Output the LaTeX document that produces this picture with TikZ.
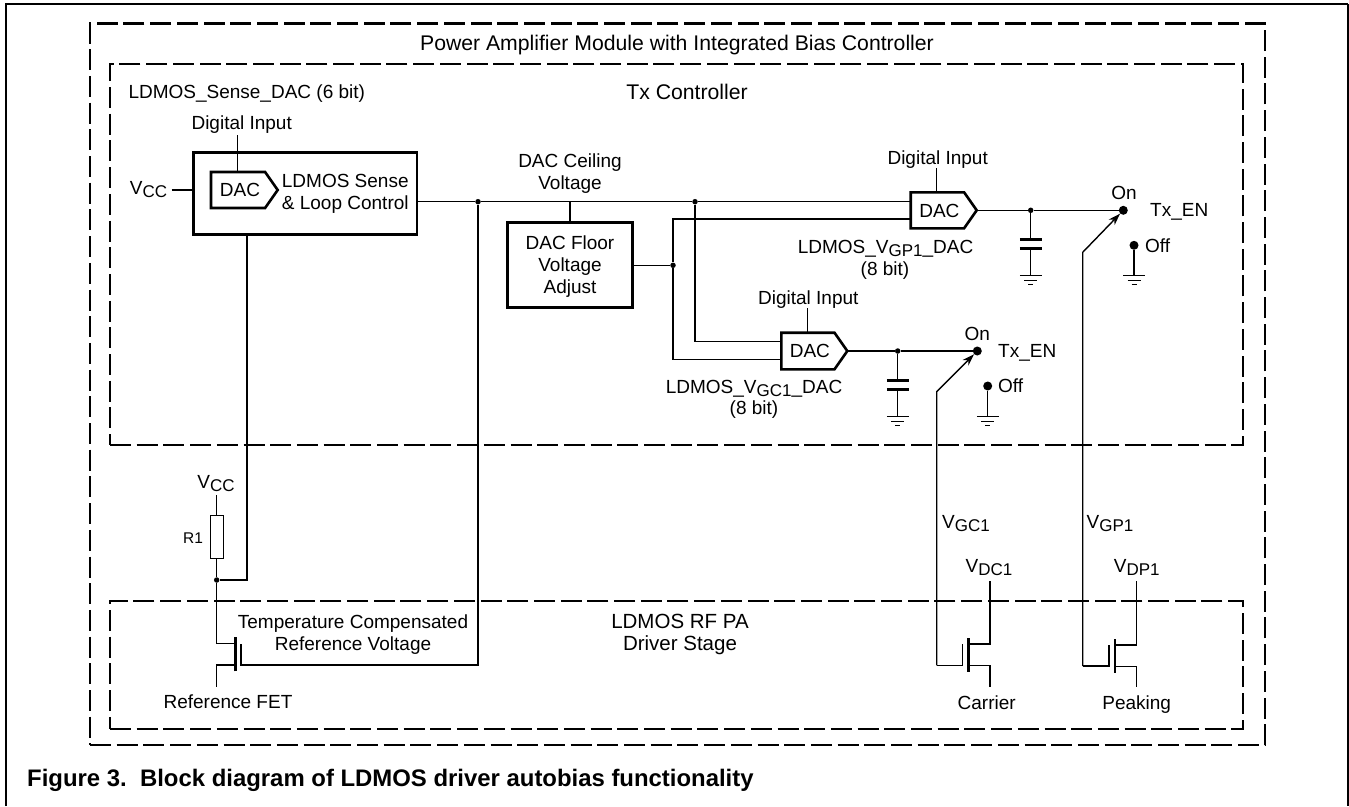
\documentclass[tikz,border=0pt]{standalone}
\usepackage{fontspec}
\setmainfont{Liberation Sans}
\usetikzlibrary{shapes.symbols,arrows.meta}

% Label with a lowered index, as in V_CC
\newcommand{\vsub}[2]{#1\raisebox{-0.3ex}{\fontsize{17pt}{18pt}\selectfont #2}}

\tikzset{
    lbl/.style={inner sep=0pt,text height=13.5pt,text depth=0pt,font=\fontsize{19pt}{21pt}\selectfont},
    bigtitle/.style={lbl,font=\fontsize{21.2pt}{23pt}\selectfont},
    wire/.style={line width=1.4pt},
    framebox/.style={draw,line width=2.6pt,dash pattern=on 21pt off 5.7pt,inner sep=0pt,outer sep=0pt},
    solidbox/.style={draw,line width=2.6pt,inner sep=0pt,outer sep=0pt},
    dacbox/.style={draw,line width=2.6pt,inner sep=0pt,outer sep=0pt,shape=signal,signal to=east,signal pointer angle=110,
        lbl},
    junction/.style={circle,fill=black,inner sep=0pt,minimum size=5.5pt},
    contact/.style={circle,fill=black,inner sep=0pt,minimum size=9pt},
    plate/.style={line width=3pt},
    gatebar/.style={line width=2.8pt}
}

\begin{document}
\begin{tikzpicture}[x=1pt,y=-1pt]
    \useasboundingbox (0,0) rectangle (1349,806);

    % Page rule, open at the bottom
    \draw[line width=2.2pt] (6,806) -- (6,4) -- (1348,4);
    \draw[line width=1.2pt] (1348,4) -- (1348,806);

    % Dashed frames
    \node[framebox,minimum width=1175pt,minimum height=721.5pt] (pamodule) at (677.5,384.25) {};
    \node[bigtitle] (pamoduletitle) at (677,44) {Power Amplifier Module with Integrated Bias Controller};
    \node[framebox,minimum width=1133pt,minimum height=381pt] (txbox) at (676.5,254.5) {};
    \node[bigtitle] (txtitle) at (687,93) {Tx Controller};
    \node[framebox,minimum width=1133pt,minimum height=128pt] (rfbox) at (676.5,665) {};
    \node[bigtitle,font=\fontsize{20.5pt}{23pt}\selectfont] (rftitleone) at (680,622) {LDMOS RF PA};
    \node[bigtitle,font=\fontsize{20.5pt}{23pt}\selectfont] (rftitletwo) at (680,644) {Driver Stage};

    % Sense block with its DAC
    \node[lbl,anchor=west] (sensename) at (128.3,92) {LDMOS\_Sense\_DAC (6 bit)};
    \node[solidbox,minimum width=223.5pt,minimum height=81.5pt] (senseblock) at (305.25,193.5) {};
    \node[dacbox,minimum width=66.7pt,minimum height=36pt,anchor=west] (sensedac) at (211,190) {\hspace*{4pt}DAC};
    \node[lbl,anchor=west] (sensetextone) at (281.7,181) {LDMOS Sense};
    \node[lbl,anchor=west] (sensetexttwo) at (281.7,203) {\&\ Loop Control};
    \node[lbl] (sensedigital) at (241.7,123) {Digital Input};
    \coordinate (sensestem) at (237.7,135);
    \draw[wire] (sensestem) -- (sensestem |- sensedac.north);
    \node[lbl] (sensevcc) at (148.5,188) {\vsub{V}{CC}};
    \coordinate (sensevccend) at (171.7,190);
    \draw[wire] (sensevccend) -- (sensevccend -| senseblock.west);

    % Ceiling voltage bus
    \node[junction] (busleft) at (478,201.7) {};
    \node[junction] (busright) at (695,201.7) {};
    \node[lbl] (ceilingone) at (570,161) {DAC Ceiling};
    \node[lbl] (ceilingtwo) at (570,183) {Voltage};

    % Floor voltage block
    \node[solidbox,minimum width=125pt,minimum height=85pt] (floorblock) at (570,265) {};
    \node[lbl] (floorone) at (570,243) {DAC Floor};
    \node[lbl] (floortwo) at (570,265) {Voltage};
    \node[lbl] (floorthree) at (570,287) {Adjust};
    \node[junction] (floorjoint) at (673,265.3) {};
    \draw[wire] (floorblock.east |- floorjoint) -- (floorjoint);
    \draw[wire] (floorblock.north) -- (floorblock.north |- busleft);

    % DAC for the peaking gate
    \node[dacbox,minimum width=66pt,minimum height=36pt,anchor=west] (dacgp) at (910.7,210.3) {\hspace*{4pt}DAC};
    \node[lbl] (gpdigital) at (937.7,157.3) {Digital Input};
    \coordinate (gpstem) at (936.7,168);
    \draw[wire] (gpstem) -- (gpstem |- dacgp.north);
    \node[lbl] (gpnameone) at (885.5,246.7) {LDMOS\_\vsub{V}{GP1}\_DAC};
    \node[lbl] (gpnametwo) at (885,268.7) {(8 bit)};

    % DAC for the carrier gate
    \node[dacbox,minimum width=66pt,minimum height=36.6pt,anchor=west] (dacgc) at (781.3,351) {\hspace*{4pt}DAC};
    \node[lbl] (gcdigital) at (808.3,297.7) {Digital Input};
    \coordinate (gcstem) at (807.7,308);
    \draw[wire] (gcstem) -- (gcstem |- dacgc.north);
    \node[lbl] (gcnameone) at (754,386.7) {LDMOS\_\vsub{V}{GC1}\_DAC};
    \node[lbl] (gcnametwo) at (754,408) {(8 bit)};

    % Wiring between the blocks
    \draw[wire] (senseblock.east |- busleft) -- (busleft) -- (busright) -- (dacgp.west |- busright);
    \coordinate (floortap) at (673,219);
    \draw[wire] (dacgp.west |- floortap) -- (floortap) -- (floorjoint);
    \coordinate (gcceiling) at (695,341.7);
    \coordinate (gcfloor) at (673,359.3);
    \draw[wire] (busright) -- (gcceiling) -- (dacgc.west |- gcceiling);
    \draw[wire] (floorjoint) -- (gcfloor) -- (dacgc.west |- gcfloor);

    % Output and switch of the peaking DAC
    \node[contact] (gpon) at (1123.3,210.3) {};
    \node[junction] (gpout) at (1030.7,210.3) {};
    \draw[wire] (dacgp.east) -- (gpout) -- (gpon);
    \node[lbl] (gponlabel) at (1124,192.7) {On};
    \node[lbl,anchor=west] (gpenable) at (1150,210) {Tx\_EN};
    \node[contact] (gpoff) at (1134,245.3) {};
    \node[lbl,anchor=west] (gpofflabel) at (1145,245.3) {Off};

    % Capacitor and grounds at the peaking DAC
    \coordinate (gpcaptop) at (1030.7,239.3);
    \coordinate (gpcapbot) at (1030.7,248.6);
    \coordinate (gpcapgnd) at (1030.7,275.7);
    \coordinate (gpoffgnd) at (1134,275.7);
    \draw[wire] (gpout) -- (gpcaptop);
    \draw[plate] ([xshift=-10.8pt]gpcaptop) -- ([xshift=10.8pt]gpcaptop);
    \draw[plate] ([xshift=-10.8pt]gpcapbot) -- ([xshift=10.8pt]gpcapbot);
    \draw[wire] (gpcapbot) -- (gpcapgnd);
    \draw[wire] (gpoff) -- (gpoffgnd);
    \draw[wire] ([xshift=-10.8pt]gpcapgnd) -- ([xshift=10.8pt]gpcapgnd);
    \draw[wire] ([xshift=-6.5pt,yshift=-4.5pt]gpcapgnd) -- ([xshift=6.5pt,yshift=-4.5pt]gpcapgnd);
    \draw[wire] ([xshift=-2.5pt,yshift=-9pt]gpcapgnd) -- ([xshift=2.5pt,yshift=-9pt]gpcapgnd);
    \draw[wire] ([xshift=-10.8pt]gpoffgnd) -- ([xshift=10.8pt]gpoffgnd);
    \draw[wire] ([xshift=-6.5pt,yshift=-4.5pt]gpoffgnd) -- ([xshift=6.5pt,yshift=-4.5pt]gpoffgnd);
    \draw[wire] ([xshift=-2.5pt,yshift=-9pt]gpoffgnd) -- ([xshift=2.5pt,yshift=-9pt]gpoffgnd);

    % Output and switch of the carrier DAC
    \node[contact] (gcon) at (977.3,351) {};
    \node[junction] (gcout) at (897.7,351) {};
    \draw[wire] (dacgc.east) -- (gcout) -- (gcon);
    \node[lbl] (gconlabel) at (977.3,333.3) {On};
    \node[lbl,anchor=west] (gcenable) at (998,351) {Tx\_EN};
    \node[contact] (gcoff) at (987.7,386) {};
    \node[lbl,anchor=west] (gcofflabel) at (998,386) {Off};

    % Capacitor and grounds at the carrier DAC
    \coordinate (gccaptop) at (897.7,380);
    \coordinate (gccapbot) at (897.7,389.3);
    \coordinate (gccapgnd) at (897.7,416.7);
    \coordinate (gcoffgnd) at (987.7,416.7);
    \draw[wire] (gcout) -- (gccaptop);
    \draw[plate] ([xshift=-10.8pt]gccaptop) -- ([xshift=10.8pt]gccaptop);
    \draw[plate] ([xshift=-10.8pt]gccapbot) -- ([xshift=10.8pt]gccapbot);
    \draw[wire] (gccapbot) -- (gccapgnd);
    \draw[wire] (gcoff) -- (gcoffgnd);
    \draw[wire] ([xshift=-10.8pt]gccapgnd) -- ([xshift=10.8pt]gccapgnd);
    \draw[wire] ([xshift=-6.5pt,yshift=-4.5pt]gccapgnd) -- ([xshift=6.5pt,yshift=-4.5pt]gccapgnd);
    \draw[wire] ([xshift=-2.5pt,yshift=-9pt]gccapgnd) -- ([xshift=2.5pt,yshift=-9pt]gccapgnd);
    \draw[wire] ([xshift=-10.8pt]gcoffgnd) -- ([xshift=10.8pt]gcoffgnd);
    \draw[wire] ([xshift=-6.5pt,yshift=-4.5pt]gcoffgnd) -- ([xshift=6.5pt,yshift=-4.5pt]gcoffgnd);
    \draw[wire] ([xshift=-2.5pt,yshift=-9pt]gcoffgnd) -- ([xshift=2.5pt,yshift=-9pt]gcoffgnd);

    % Reference FET with R1
    \node[lbl] (refvcc) at (216,482) {\vsub{V}{CC}};
    \node[draw,line width=1.2pt,inner sep=0pt,outer sep=0pt,minimum width=13pt,minimum height=43pt] (rone) at (216.7,537.3) {};
    \node[lbl,font=\fontsize{15.5pt}{17pt}\selectfont] (ronelabel) at (193,537) {R1};
    \node[junction] (refjoint) at (216.7,580) {};
    \coordinate (rvccend) at (216.7,495);
    \coordinate (sensedrop) at (247,580);
    \coordinate (refdrain) at (216.7,643.7);
    \coordinate (refbar) at (235.7,654.3);
    \coordinate (refsource) at (216.7,665);
    \coordinate (refsourceend) at (216.7,687);
    \coordinate (refgate) at (241,665);
    \coordinate (refgateturn) at (478,665);
    \draw[wire] (rvccend) -- (rone);
    \draw[wire] (rone) -- (refjoint) -- (refdrain) -- (refdrain -| refbar);
    \draw[wire] (refsource -| refbar) -- (refsource) -- (refsourceend);
    \draw[wire] (senseblock.south -| sensedrop) -- (sensedrop) -- (refjoint);
    \draw[gatebar] ([yshift=-17pt]refbar) -- ([yshift=17pt]refbar);
    \draw[wire] ([yshift=21pt]refgate) -- (refgate) -- (refgateturn) -- (busleft);
    \node[lbl] (reftempone) at (353,621.7) {Temperature Compensated};
    \node[lbl] (reftemptwo) at (353,643.5) {Reference Voltage};
    \node[lbl] (refname) at (228,701.7) {Reference FET};

    % Carrier FET
    \coordinate (gcdrop) at (936.7,391.7);
    \coordinate (gcgate) at (936.7,665.3);
    \coordinate (gcgatebar) at (962.7,665.3);
    \coordinate (gcbar) at (968.3,654.7);
    \coordinate (gcdrainturn) at (990,644);
    \coordinate (gcdrainend) at (990,580.7);
    \coordinate (gcsourceturn) at (990,665.3);
    \coordinate (gcsourceend) at (990,686.7);
    \draw[wire,-{Stealth[length=12pt,width=8pt]}] (gcgate) -- (gcdrop) -- (gcon);
    \draw[wire] (gcgate) -- (gcgatebar) -- ([yshift=21.3pt]gcgatebar);
    \draw[gatebar] ([yshift=-17pt]gcbar) -- ([yshift=17pt]gcbar);
    \draw[wire] (gcbar |- gcdrainturn) -- (gcdrainturn) -- (gcdrainend);
    \draw[wire] (gcbar |- gcsourceturn) -- (gcsourceturn) -- (gcsourceend);
    \node[lbl] (gcvolt) at (966,522) {\vsub{V}{GC1}};
    \node[lbl] (gcdrain) at (989,566) {\vsub{V}{DC1}};
    \node[lbl] (gcfetname) at (986.7,703) {Carrier};

    % Peaking FET
    \coordinate (gpdrop) at (1082.7,252.3);
    \coordinate (gpgate) at (1082.7,666);
    \coordinate (gpgatebar) at (1109,666);
    \coordinate (gpbar) at (1115,655.5);
    \coordinate (gpdrainturn) at (1136.7,645);
    \coordinate (gpdrainend) at (1136.7,580.7);
    \coordinate (gpsourceturn) at (1136.7,666.7);
    \coordinate (gpsourceend) at (1136.7,687);
    \draw[wire,-{Stealth[length=12pt,width=8pt]}] (gpgate) -- (gpdrop) -- (gpon);
    \draw[wire] (gpgate) -- (gpgatebar) -- ([yshift=21pt]gpgatebar);
    \draw[gatebar] ([yshift=-17pt]gpbar) -- ([yshift=17pt]gpbar);
    \draw[wire] (gpbar |- gpdrainturn) -- (gpdrainturn) -- (gpdrainend);
    \draw[wire] (gpbar |- gpsourceturn) -- (gpsourceturn) -- (gpsourceend);
    \node[lbl] (gpvolt) at (1110,522) {\vsub{V}{GP1}};
    \node[lbl] (gpdrain) at (1136.7,566) {\vsub{V}{DP1}};
    \node[lbl] (gpfetname) at (1136.7,703) {Peaking};

    % Caption
    \node[lbl,anchor=west,font=\fontsize{23.9pt}{25pt}\selectfont\bfseries] (caption) at (27,780) {Figure 3.\ \ Block diagram of LDMOS driver autobias functionality};
\end{tikzpicture}
\end{document}
